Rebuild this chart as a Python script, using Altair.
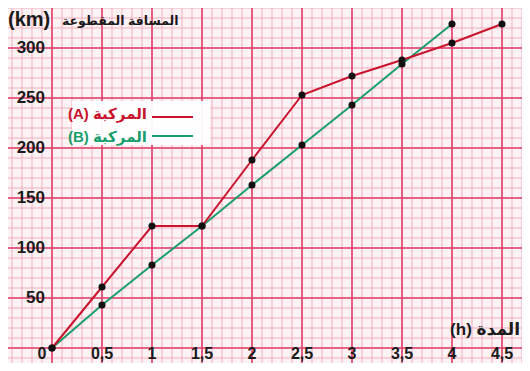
import altair as alt
import pandas as pd
import numpy as np

# ---- data ----
time_a = [0, 0.5, 1, 1.5, 2, 2.5, 3, 3.5, 4, 4.5]
dist_a = [0, 61, 122, 122, 188, 253, 272, 288, 305, 324]
time_b = [0, 0.5, 1, 1.5, 2, 2.5, 3, 3.5, 4]
dist_b = [0, 43, 83, 122, 163, 203, 243, 284, 324]

x_ticks = [0.5, 1, 1.5, 2, 2.5, 3, 3.5, 4, 4.5]
x_tick_labels = ["0,5", "1", "1,5", "2", "2,5", "3", "3,5", "4", "4,5"]
y_ticks = [50, 100, 150, 200, 250, 300]
y_tick_labels = ["50", "100", "150", "200", "250", "300"]
origin_label = ["0"]

legend_labels = ["(A) المركبة", "(B) المركبة"]
y_title_unit = "(km)"
y_title_text = "المسافة المقطوعة"
x_title_text = "(h) المدة"

RED = "#c8142c"
GREEN = "#1a9e6c"
MAJOR = "#e0406a"
MINOR = "#f3adbf"
PAPER = "#fdf3f5"
FONT = "Liberation Sans, DejaVu Sans, sans-serif"

W, H = 514, 355
X_DOM = [-0.44, 4.70]
Y_DOM = [-15, 340]
xs = alt.Scale(domain=X_DOM, nice=False, zero=False)
ys = alt.Scale(domain=Y_DOM, nice=False, zero=False)

def X(f="x"):
    return alt.X(f"{f}:Q", scale=xs, axis=None)

def Y(f="y"):
    return alt.Y(f"{f}:Q", scale=ys, axis=None)

# grid (graph paper)
minor_x = [round(v, 2) for v in np.arange(-0.4, 4.71, 0.1)]
minor_y = [int(v) for v in np.arange(-10, 341, 10)]
major_x = [0, 0.5, 1, 1.5, 2, 2.5, 3, 3.5, 4, 4.5]
major_y = [0, 50, 100, 150, 200, 250, 300]

gmx = alt.Chart(pd.DataFrame({"x": minor_x})).mark_rule(color=MINOR, strokeWidth=1).encode(x=X())
gmy = alt.Chart(pd.DataFrame({"y": minor_y})).mark_rule(color=MINOR, strokeWidth=1).encode(y=Y())
gMx = alt.Chart(pd.DataFrame({"x": major_x})).mark_rule(color=MAJOR, strokeWidth=1.6).encode(x=X())
gMy = alt.Chart(pd.DataFrame({"y": major_y})).mark_rule(color=MAJOR, strokeWidth=1.6).encode(y=Y())

one = pd.DataFrame({"k": [0]})

# legend box
leg_box = alt.Chart(one).mark_rect(color="white", opacity=0.95).encode(
    x=alt.value(64), x2=alt.value(202), y=alt.value(93), y2=alt.value(137)
)

da = pd.DataFrame({"x": time_a, "y": dist_a})
db = pd.DataFrame({"x": time_b, "y": dist_b})

line_a = alt.Chart(da).mark_line(color=RED, strokeWidth=2).encode(x=X(), y=Y())
line_b = alt.Chart(db).mark_line(color=GREEN, strokeWidth=2).encode(x=X(), y=Y())
pts_a = alt.Chart(da).mark_circle(size=50, color="#111111", opacity=1).encode(x=X(), y=Y())
pts_b = alt.Chart(db).mark_circle(size=50, color="#111111", opacity=1).encode(x=X(), y=Y())

# tick labels
xt = alt.Chart(pd.DataFrame({"x": x_ticks, "t": x_tick_labels})).mark_text(
    font=FONT, fontSize=16, fontWeight="bold", color="#1a1a1a", align="center", baseline="middle"
).encode(x=X(), y=alt.value(346), text="t:N")
yt = alt.Chart(pd.DataFrame({"y": y_ticks, "t": y_tick_labels})).mark_text(
    font=FONT, fontSize=17, fontWeight="bold", color="#1a1a1a", align="right", baseline="middle"
).encode(y=Y(), x=alt.value(37), text="t:N")
ot = alt.Chart(pd.DataFrame({"t": origin_label})).mark_text(
    font=FONT, fontSize=16, fontWeight="bold", color="#1a1a1a", align="center", baseline="middle"
).encode(x=alt.value(34), y=alt.value(346), text="t:N")

# titles
yu = alt.Chart(pd.DataFrame({"t": [y_title_unit]})).mark_text(
    font=FONT, fontSize=20, fontWeight="bold", color="#1a1a1a", align="left", baseline="middle"
).encode(x=alt.value(0), y=alt.value(12), text="t:N")
ytt = alt.Chart(pd.DataFrame({"t": [y_title_text]})).mark_text(
    font=FONT, fontSize=12.5, fontWeight="bold", color="#1a1a1a", align="left", baseline="middle"
).encode(x=alt.value(54), y=alt.value(13), text="t:N")
xtt = alt.Chart(pd.DataFrame({"t": [x_title_text]})).mark_text(
    font=FONT, fontSize=17, fontWeight="bold", color="#1a1a1a", align="right", baseline="middle"
).encode(x=alt.value(512), y=alt.value(322), text="t:N")

# legend entries
leg_a = alt.Chart(pd.DataFrame({"t": [legend_labels[0]]})).mark_text(
    font=FONT, fontSize=15, fontWeight="bold", color=RED, align="right", baseline="middle"
).encode(x=alt.value(139), y=alt.value(106), text="t:N")
leg_b = alt.Chart(pd.DataFrame({"t": [legend_labels[1]]})).mark_text(
    font=FONT, fontSize=15, fontWeight="bold", color=GREEN, align="right", baseline="middle"
).encode(x=alt.value(139), y=alt.value(129), text="t:N")
leg_la = alt.Chart(one).mark_rule(color=RED, strokeWidth=2).encode(
    x=alt.value(144), x2=alt.value(185), y=alt.value(109))
leg_lb = alt.Chart(one).mark_rule(color=GREEN, strokeWidth=2).encode(
    x=alt.value(144), x2=alt.value(185), y=alt.value(128))

chart = alt.layer(
    gmx, gmy, gMx, gMy, leg_box, line_b, line_a, pts_b, pts_a,
    xt, yt, ot, yu, ytt, xtt, leg_a, leg_b, leg_la, leg_lb
).properties(
    width=W, height=H, padding=0, autosize=alt.AutoSizeParams(type="none"),
    background=PAPER
).configure_view(stroke=None)

chart.save("out.html", embed_options={"renderer": "svg", "actions": False})
